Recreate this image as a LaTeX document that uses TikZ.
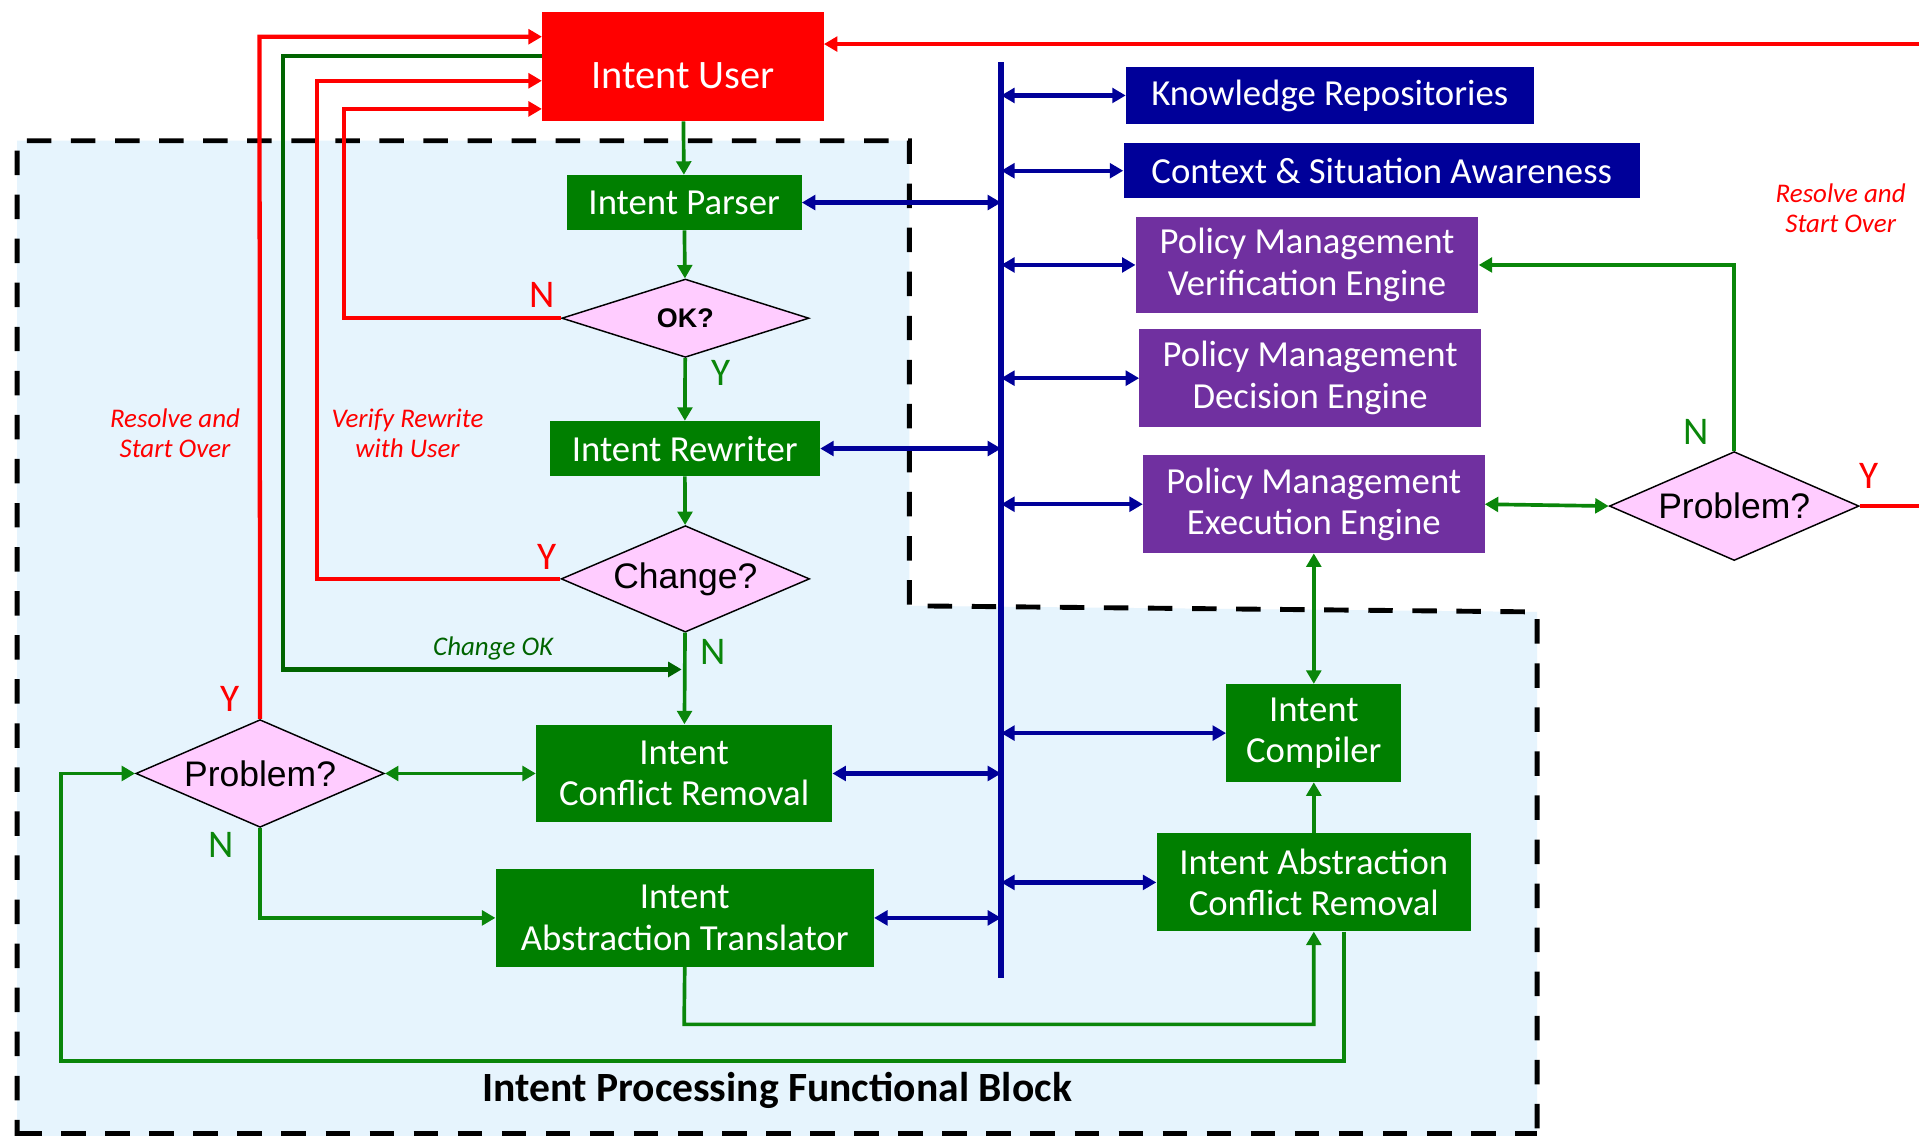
\documentclass[tikz,border=0pt]{standalone}
\usepackage{fontspec}
\setmainfont{Carlito}
\newfontfamily\arialf{Liberation Sans}
\usetikzlibrary{arrows.meta,shapes.geometric}

\definecolor{ured}{HTML}{FF0000}
\definecolor{bgreen}{HTML}{007F00}
\definecolor{lgreen}{HTML}{0A860A}
\definecolor{dgreen}{HTML}{006400}
\definecolor{navyb}{HTML}{000099}
\definecolor{purp}{HTML}{7030A0}
\definecolor{pinkd}{HTML}{FFCCFF}
\definecolor{skyfill}{HTML}{E6F4FD}

\tikzset{
  >={Triangle[length=11pt,width=12pt]},
  blk/.style={inner sep=0pt, text=white, align=center,
              font=\fontsize{30}{34}\selectfont},
  gbox/.style={blk, fill=bgreen},
  nbox/.style={blk, fill=navyb},
  pbox/.style={blk, fill=purp},
  rbox/.style={blk, fill=ured, font=\fontsize{33}{36}\selectfont},
  dec/.style={diamond, aspect=2.5, draw=black, line width=1.2pt, fill=pinkd, inner sep=0pt,
              font=\arialf\fontsize{29}{30}\selectfont},
  rarrow/.style={draw=ured, line width=3.5pt, ->},
  garrow/.style={draw=lgreen, line width=3pt, ->},
  garrowtwo/.style={draw=lgreen, line width=3pt, <->},
  dgarrow/.style={draw=dgreen, line width=3.5pt, ->},
  barrowtwo/.style={draw=navyb, line width=3.5pt, <->},
  busline/.style={draw=navyb, line width=5pt},
  ylab/.style={font=\fontsize{32}{34}\selectfont, inner sep=0pt},
  note/.style={font=\itshape\fontsize{22}{25}\selectfont, align=center, inner sep=0pt},
  frame/.style={draw=black, line width=4pt, dash pattern=on 20pt off 16pt}
}

\begin{document}
\begin{tikzpicture}[x=1pt,y=-1pt]
\useasboundingbox (0,0) rectangle (1568,928);
\fill[white] (0,0) rectangle (1568,928);

% functional block area
\fill[skyfill] (14,115) -- (743,115) -- (743,495) -- (1256,500) -- (1256,935) -- (14,935) -- cycle;
\draw[frame] (14,935) -- (14,115) -- (743,115) -- (743,495) -- (1256,500) -- (1256,935);
\draw[frame] (14,926) -- (1256,926);

% central bus
\coordinate (busT) at (818,51);
\coordinate (busB) at (818,799);
\draw[busline] (busT) -- (busB);

% main column
\node[rbox, minimum width=230pt, minimum height=89pt] (user) at (558,54.5) {};
\node[rbox] (usertext) at ([yshift=-7pt]user.center) {Intent User};
\node[gbox, minimum width=192pt, minimum height=45pt] (parser) at (559,165.5) {Intent Parser};
\node[dec, aspect=3.2, minimum width=202pt, minimum height=64pt,
      font=\arialf\bfseries\fontsize{22}{24}\selectfont] (ok) at (560,260) {OK?};
\node[gbox, minimum width=221pt, minimum height=45pt] (rewriter) at (559.5,366.5) {Intent Rewriter};
\node[dec, minimum width=203pt, minimum height=87pt] (change) at (560,473) {Change?};
\node[gbox, minimum width=242pt, minimum height=80pt] (icr) at (559,632) {Intent\\Conflict Removal};
\node[dec, minimum width=203pt, minimum height=88pt] (prob1) at (212.5,632) {Problem?};
\node[gbox, minimum width=309pt, minimum height=80pt] (iat) at (559.5,750) {Intent\\Abstraction Translator};

% right column
\node[nbox, minimum width=333pt, minimum height=46pt] (kr) at (1086.5,78) {Knowledge Repositories};
\node[nbox, minimum width=422pt, minimum height=45pt] (ctx) at (1129,139.5) {Context \& Situation Awareness};
\node[pbox, minimum width=280pt, minimum height=79pt] (pmve) at (1068,216.5) {Policy Management\\Verification Engine};
\node[pbox, minimum width=279pt, minimum height=80pt] (pmde) at (1070.5,309) {Policy Management\\Decision Engine};
\node[pbox, minimum width=279pt, minimum height=80pt] (pmee) at (1073.5,412) {Policy Management\\Execution Engine};
\node[gbox, minimum width=143pt, minimum height=80pt] (comp) at (1073.5,599) {Intent\\Compiler};
\node[gbox, minimum width=257pt, minimum height=80pt] (iacr) at (1073.5,721) {Intent Abstraction\\Conflict Removal};
\node[dec, minimum width=204pt, minimum height=89pt] (prob2) at (1417,413.5) {Problem?};

% bends
\coordinate (okbend) at (281,89);
\coordinate (chbend) at (259,66);
\coordinate (okline) at (231,46);
\coordinate (okjoin) at (557,547);
\coordinate (resbend) at (212,30);
\coordinate (iatbend) at (559,837);
\coordinate (loopbend) at (50,867);
\coordinate (farright) at (1600,36);

% main flow
\draw[garrow] (user) -- (parser);
\draw[garrow] (parser) -- (ok);
\draw[garrow] (ok) -- (rewriter);
\draw[garrow] (rewriter) -- (change);
\draw[garrow] (change) -- (icr);
\draw[garrowtwo] (prob1.east) -- (icr.west);
\draw[garrow] (prob1.south) |- (iat.west);
\draw[garrow] (iat.south) -- (iatbend) -| (iacr.south);
\draw[garrow] ([xshift=24.5pt]iacr.south) |- (loopbend) |- (prob1.west);
\draw[garrow] (iacr.north) -- (comp.south);
\draw[garrowtwo] (pmee.south) -- (comp.north);
\draw[garrowtwo] (pmee.east) -- (prob2.west);
\draw[garrow] (prob2.north) |- (pmve.east);

% returns to the user
\draw[rarrow] (ok.west) -| (okbend) -- (user.west |- okbend);
\draw[rarrow] (change.west) -| (chbend) -- (user.west |- chbend);
\draw[rarrow] (prob1.north) -- (resbend) -- (user.west |- resbend);
\draw[dgarrow] (user.west |- okline) -| (okline |- okjoin) -- (okjoin);
\draw[rarrow] (prob2.east) -- (prob2.east -| farright) -- (farright) -- (user.east |- farright);

% bus links
\draw[barrowtwo] (kr.west -| busT) -- (kr.west);
\draw[barrowtwo] (ctx.west -| busT) -- (ctx.west);
\draw[barrowtwo] (parser.east) -- (parser.east -| busT);
\draw[barrowtwo] (pmve.west -| busT) -- (pmve.west);
\draw[barrowtwo] (pmde.west -| busT) -- (pmde.west);
\draw[barrowtwo] (rewriter.east) -- (rewriter.east -| busT);
\draw[barrowtwo] (pmee.west -| busT) -- (pmee.west);
\draw[barrowtwo] (comp.west -| busT) -- (comp.west);
\draw[barrowtwo] (icr.east) -- (icr.east -| busT);
\draw[barrowtwo] (iacr.west -| busT) -- (iacr.west);
\draw[barrowtwo] (iat.east) -- (iat.east -| busT);

% decision labels
\node[ylab, text=ured] (okn) at (443,241) {N};
\node[ylab, text=lgreen] (oky) at (589,305) {Y};
\node[ylab, text=ured] (chy) at (447,455) {Y};
\node[ylab, text=lgreen] (chn) at (583,533) {N};
\node[ylab, text=ured] (p1y) at (188,571) {Y};
\node[ylab, text=lgreen] (p1n) at (181,690) {N};
\node[ylab, text=lgreen] (p2n) at (1386,353) {N};
\node[ylab, text=ured] (p2y) at (1527,389) {Y};

% notes
\node[note, text=ured] (resleft) at (143,354) {Resolve and\\Start Over};
\node[note, text=ured] (verify) at (333,354) {Verify Rewrite\\with User};
\node[note, text=dgreen] (chok) at (403,530) {Change OK};
\node[note, text=ured] (resright) at (1504,170) {Resolve and\\Start Over};

\node[font=\bfseries\fontsize{34}{36}\selectfont, inner sep=0pt] (title) at (635,891) {Intent Processing Functional Block};
\end{tikzpicture}
\end{document}
